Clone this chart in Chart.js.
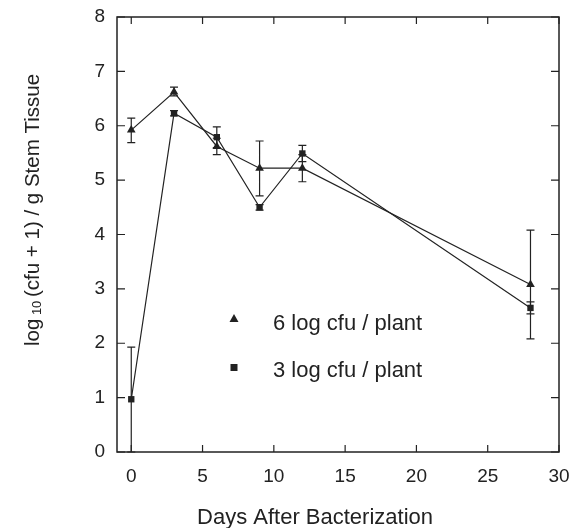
<!DOCTYPE html>
<html lang="en">
<head>
  <meta charset="UTF-8" />
  <title>Stem Tissue Colonization</title>
  <script src="https://cdn.jsdelivr.net/npm/chart.js"></script>
  <style>
    html, body { margin: 0; padding: 0; background: #fff; }
    #wrap { width: 572px; height: 528px; }
  </style>
</head>
<body>
  <div id="wrap"><canvas id="chart"></canvas></div>

  <script>
    // days after bacterization
    const days = [0, 3, 6, 9, 12, 28];

    // 6 log cfu / plant (triangles)
    const high = [5.92, 6.62, 5.62, 5.22, 5.22, 3.08];
    const highLo = [5.69, 6.55, 5.47, 4.71, 4.97, 2.08];
    const highHi = [6.14, 6.71, 5.77, 5.72, 5.47, 4.08];

    // 3 log cfu / plant (squares)
    const low = [0.97, 6.23, 5.79, 4.50, 5.49, 2.65];
    const lowLo = [0.00, 6.18, 5.60, 4.45, 5.34, 2.54];
    const lowHi = [1.93, 6.28, 5.98, 4.55, 5.64, 2.76];

    const xTicks = [0, 5, 10, 15, 20, 25, 30];
    const yTicks = [0, 1, 2, 3, 4, 5, 6, 7, 8];

    const ink = '#222';
    const font = "'Liberation Sans', Arial, sans-serif";

    const frame = {
      id: 'frame',
      afterDatasetsDraw(chart) {
        const { ctx, chartArea: a, scales: { x, y } } = chart;
        ctx.save();
        ctx.strokeStyle = ink;
        ctx.lineWidth = 1.5;
        ctx.strokeRect(a.left, a.top, a.right - a.left, a.bottom - a.top);

        // inward ticks on all four sides
        ctx.lineWidth = 1.2;
        ctx.beginPath();
        xTicks.forEach(v => {
          const px = x.getPixelForValue(v);
          ctx.moveTo(px, a.bottom); ctx.lineTo(px, a.bottom - 7);
          ctx.moveTo(px, a.top); ctx.lineTo(px, a.top + 7);
        });
        yTicks.forEach(v => {
          const py = y.getPixelForValue(v);
          ctx.moveTo(a.left, py); ctx.lineTo(a.left + 8, py);
          ctx.moveTo(a.right, py); ctx.lineTo(a.right - 8, py);
        });
        ctx.stroke();

        // error bars
        const bars = (lo, hi) => {
          ctx.beginPath();
          days.forEach((d, i) => {
            const px = x.getPixelForValue(d);
            const p1 = y.getPixelForValue(lo[i]);
            const p2 = y.getPixelForValue(hi[i]);
            ctx.moveTo(px, p1); ctx.lineTo(px, p2);
            ctx.moveTo(px - 4, p1); ctx.lineTo(px + 4, p1);
            ctx.moveTo(px - 4, p2); ctx.lineTo(px + 4, p2);
          });
          ctx.stroke();
        };
        bars(highLo, highHi);
        bars(lowLo, lowHi);

        // legend inside plot
        ctx.fillStyle = ink;
        ctx.font = '22px ' + font;
        ctx.beginPath();
        ctx.moveTo(234, 314); ctx.lineTo(238.5, 322); ctx.lineTo(229.5, 322);
        ctx.closePath();
        ctx.fill();
        ctx.fillRect(230.5, 364, 7, 7);
        ctx.fillText('6 log cfu / plant', 273, 330);
        ctx.fillText('3 log cfu / plant', 273, 377);

        // axis titles
        ctx.textAlign = 'center';
        ctx.textBaseline = 'middle';
        ctx.fillText('Days After Bacterization', 315, 518);

        ctx.translate(33, 210);
        ctx.rotate(-Math.PI / 2);
        const parts = [['log', 20.5, 0], [' 10 ', 13, 4], ['(cfu + 1) / g Stem Tissue', 20.5, 0]];
        let w = 0;
        parts.forEach(p => { ctx.font = p[1] + 'px ' + font; w += ctx.measureText(p[0]).width; });
        let cx = -w / 2;
        ctx.textAlign = 'left';
        parts.forEach(p => {
          ctx.font = p[1] + 'px ' + font;
          ctx.fillText(p[0], cx, p[2]);
          cx += ctx.measureText(p[0]).width;
        });
        ctx.restore();
      }
    };

    new Chart(document.getElementById('chart'), {
      type: 'line',
      data: {
        datasets: [
          {
            label: '6 log cfu / plant',
            data: days.map((d, i) => ({ x: d, y: high[i] })),
            borderColor: ink,
            backgroundColor: ink,
            borderWidth: 1.2,
            pointStyle: 'triangle',
            pointRadius: 5,
            pointBorderWidth: 0,
            tension: 0
          },
          {
            label: '3 log cfu / plant',
            data: days.map((d, i) => ({ x: d, y: low[i] })),
            borderColor: ink,
            backgroundColor: ink,
            borderWidth: 1.2,
            pointStyle: 'rect',
            pointRadius: 4.5,
            pointBorderWidth: 0,
            tension: 0
          }
        ]
      },
      options: {
        responsive: true,
        maintainAspectRatio: false,
        animation: false,
        layout: { padding: { top: 17, right: 13, left: 0, bottom: 0 } },
        plugins: { legend: { display: false }, tooltip: { enabled: false } },
        scales: {
          x: {
            type: 'linear',
            min: -1,
            max: 30,
            afterBuildTicks: s => { s.ticks = xTicks.map(v => ({ value: v })); },
            afterFit: s => { s.height = 76; s.paddingLeft = 0; s.paddingRight = 0; },
            grid: { display: false, drawTicks: false },
            border: { display: false },
            ticks: { color: ink, font: { family: font, size: 19 }, padding: 13, maxRotation: 0 }
          },
          y: {
            min: 0,
            max: 8,
            afterBuildTicks: s => { s.ticks = yTicks.map(v => ({ value: v })); },
            afterFit: s => { s.width = 117; s.paddingTop = 0; s.paddingBottom = 0; },
            grid: { display: false, drawTicks: false },
            border: { display: false },
            ticks: { color: ink, font: { family: font, size: 19 }, padding: 12 }
          }
        }
      },
      plugins: [frame]
    });
  </script>
</body>
</html>
